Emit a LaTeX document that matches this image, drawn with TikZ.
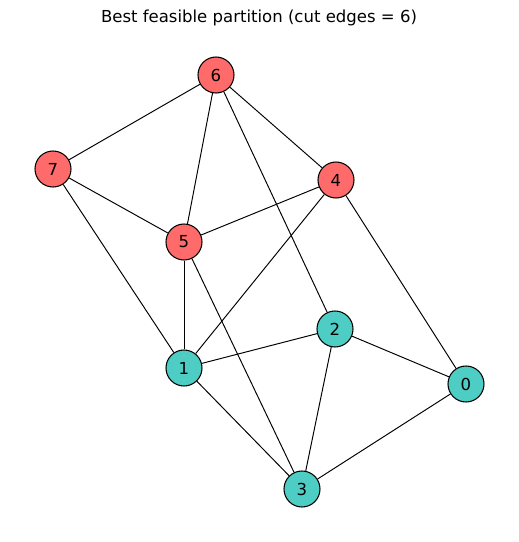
\documentclass[tikz,border=0pt]{standalone}
\usepackage{fontspec}
\setmainfont{DejaVu Sans}
\usepackage{tikz}
\usetikzlibrary{calc}
\definecolor{partRed}{HTML}{FF6B6B}
\definecolor{partTeal}{HTML}{4ECDC4}

\begin{document}
\begin{tikzpicture}[
  v/.style={circle,draw=black,line width=0.6pt,minimum size=0.72cm,inner sep=0pt,font=\fontsize{9.4}{11}\selectfont},
  vr/.style={v,fill=partRed},
  vt/.style={v,fill=partTeal},
  e/.style={line width=0.55pt,black}]
  \useasboundingbox (0,0) rectangle (10.38,10.84);
  \node[font=\fontsize{9.4}{11}\selectfont] (title) at (5.18,10.48) {Best feasible partition (cut edges = 6)};
  \node[vr] (n6) at (4.32,9.34) {6};
  \node[vr] (n7) at (1.06,7.46) {7};
  \node[vr] (n4) at (6.72,7.24) {4};
  \node[vr] (n5) at (3.68,6.00) {5};
  \node[vt] (n2) at (6.70,4.26) {2};
  \node[vt] (n1) at (3.68,3.48) {1};
  \node[vt] (n0) at (9.32,3.16) {0};
  \node[vt] (n3) at (6.04,1.06) {3};
  \draw[e] (n6)--(n7); \draw[e] (n6)--(n5); \draw[e] (n6)--(n4); \draw[e] (n6)--(n2);
  \draw[e] (n7)--(n5); \draw[e] (n7)--(n1);
  \draw[e] (n5)--(n4); \draw[e] (n5)--(n1); \draw[e] (n5)--(n3);
  \draw[e] (n4)--(n1); \draw[e] (n4)--(n0);
  \draw[e] (n2)--(n1); \draw[e] (n2)--(n0); \draw[e] (n2)--(n3);
  \draw[e] (n1)--(n3); \draw[e] (n0)--(n3);
\end{tikzpicture}
\end{document}
